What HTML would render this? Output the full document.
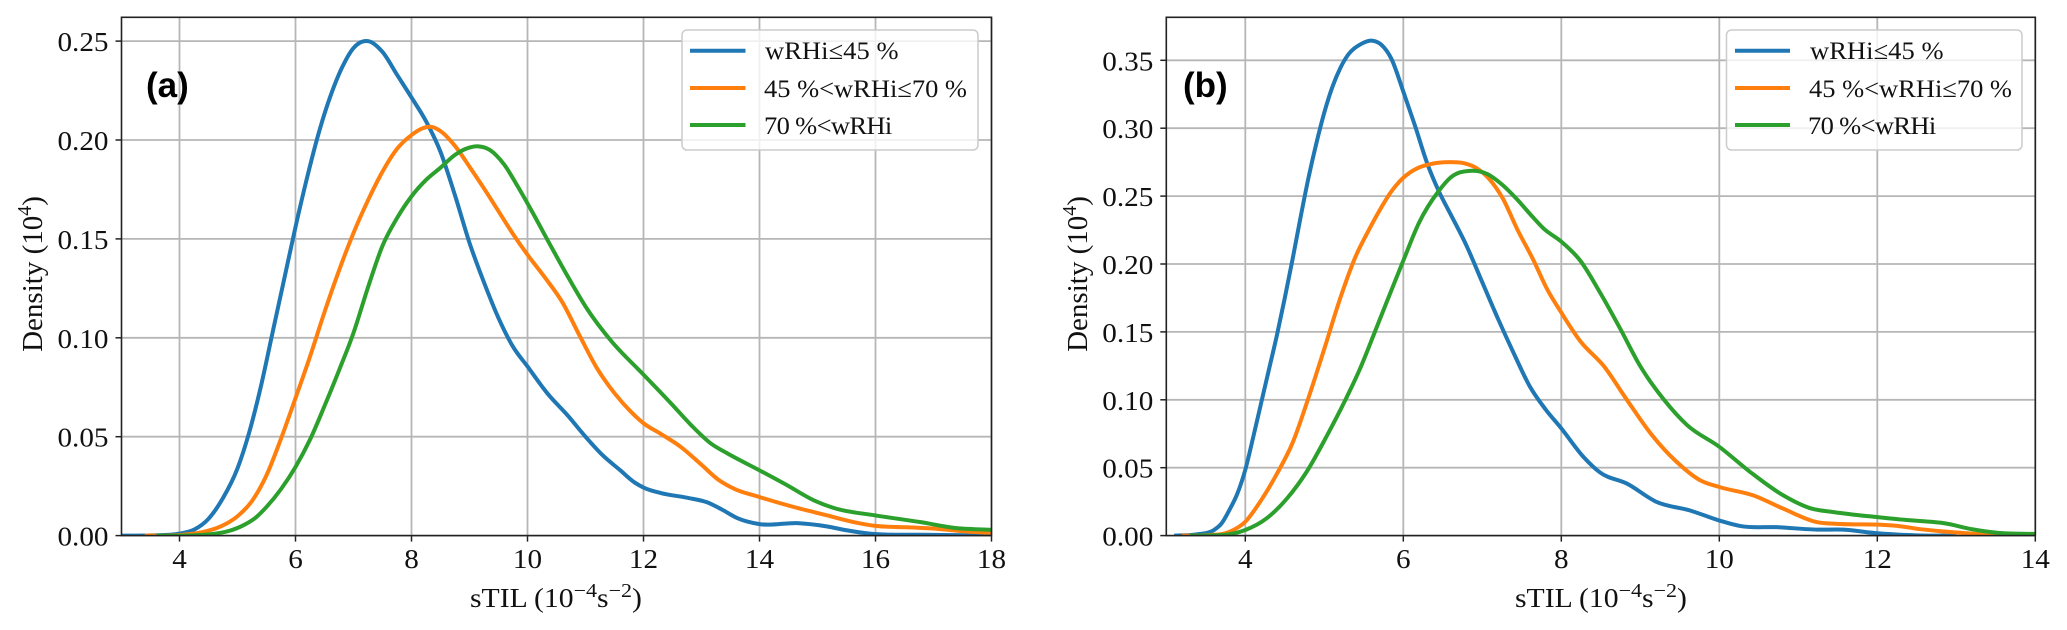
<!DOCTYPE html>
<html>
<head>
<meta charset="utf-8">
<title>sTIL density by wRHi</title>
<style>
html,body{margin:0;padding:0;background:#fff;}
svg{display:block;}
text{font-family:"Liberation Serif",serif;fill:#111;}
.panel-tag{font-family:"Liberation Sans",sans-serif;font-weight:bold;font-size:35px;fill:#000;}
</style>
</head>
<body>
<svg id="figure" xmlns="http://www.w3.org/2000/svg" width="2067" height="630" viewBox="0 0 2067 630">
  <defs>
    <clipPath id="clip-a"><rect x="121.5" y="17.3" width="870" height="518.3"/></clipPath>
    <clipPath id="clip-b"><rect x="1166.3" y="17.3" width="869" height="518.3"/></clipPath>
  </defs>
  <g id="panel-a"></g>
  <g id="panel-b"></g>

  <text class="panel-tag" x="146" y="97">(a)</text>
  <text class="panel-tag" x="1183" y="97">(b)</text>

  <text font-size="27" transform="translate(470,607) scale(1.1,1)">sTIL (10<tspan font-size="20" dy="-10">−4</tspan><tspan dy="10">s</tspan><tspan font-size="20" dy="-10">−2</tspan><tspan dy="10">)</tspan></text>
  <text font-size="27" transform="translate(1515,607) scale(1.1,1)">sTIL (10<tspan font-size="20" dy="-10">−4</tspan><tspan dy="10">s</tspan><tspan font-size="20" dy="-10">−2</tspan><tspan dy="10">)</tspan></text>
  <text font-size="29" text-anchor="middle" transform="translate(42,274) rotate(-90)">Density (10<tspan font-size="20" dy="-11">4</tspan><tspan dy="11">)</tspan></text>
  <text font-size="29" text-anchor="middle" transform="translate(1087,274) rotate(-90)">Density (10<tspan font-size="20" dy="-11">4</tspan><tspan dy="11">)</tspan></text>

  <g>
    <rect x="682" y="30" width="296" height="120" rx="5" fill="#fff" fill-opacity="0.8" stroke="#ccc" stroke-width="1.5"/>
    <line x1="690" x2="745.5" y1="50.7" y2="50.7" stroke="#1f77b4" stroke-width="4"/>
    <line x1="690" x2="745.5" y1="88" y2="88" stroke="#ff7f0e" stroke-width="4"/>
    <line x1="690" x2="745.5" y1="125" y2="125" stroke="#2ca02c" stroke-width="4"/>
    <text font-size="25" textLength="126" transform="translate(765,59) scale(1.06,1)">wRHi≤45 %</text>
    <text font-size="25" textLength="191.5" transform="translate(764,97) scale(1.06,1)">45 %&lt;wRHi≤70 %</text>
    <text font-size="25" textLength="121" transform="translate(764,134) scale(1.06,1)">70 %&lt;wRHi</text>
  </g>
  <g>
    <rect x="1726.5" y="30" width="295.5" height="120" rx="5" fill="#fff" fill-opacity="0.8" stroke="#ccc" stroke-width="1.5"/>
    <line x1="1735" x2="1790" y1="50.7" y2="50.7" stroke="#1f77b4" stroke-width="4"/>
    <line x1="1735" x2="1790" y1="88" y2="88" stroke="#ff7f0e" stroke-width="4"/>
    <line x1="1735" x2="1790" y1="125" y2="125" stroke="#2ca02c" stroke-width="4"/>
    <text font-size="25" textLength="126" transform="translate(1810,59) scale(1.06,1)">wRHi≤45 %</text>
    <text font-size="25" textLength="191.5" transform="translate(1809,97) scale(1.06,1)">45 %&lt;wRHi≤70 %</text>
    <text font-size="25" textLength="121" transform="translate(1808,134) scale(1.06,1)">70 %&lt;wRHi</text>
  </g>
</svg>
<script>
// Panel (a) tick labels
const aXTicks = [4, 6, 8, 10, 12, 14, 16, 18];
const aYTicks = ['0.00', '0.05', '0.10', '0.15', '0.20', '0.25'];
// Panel (a) series: x values and density values
const aLowX = [3, 3.5, 4, 4.25, 4.5, 4.75, 5, 5.2, 5.4, 5.6, 5.8, 6, 6.2, 6.4, 6.6, 6.8, 7, 7.25, 7.5, 7.75, 8, 8.25, 8.5, 8.75, 9, 9.25, 9.5, 9.75, 10, 10.34, 10.7, 11, 11.3, 11.6, 11.84, 12, 12.3, 12.76, 13.1, 13.35, 13.62, 14, 14.65, 15.17, 15.5, 15.9, 16.8, 18];
const aLowY = [0, 0.0001, 0.001, 0.003, 0.0085, 0.019, 0.034, 0.052, 0.075, 0.102, 0.129, 0.156, 0.181, 0.2035, 0.222, 0.2365, 0.2465, 0.25, 0.2445, 0.233, 0.2215, 0.2095, 0.194, 0.172, 0.148, 0.128, 0.11, 0.0955, 0.0855, 0.072, 0.0605, 0.05, 0.0405, 0.033, 0.027, 0.0243, 0.0215, 0.0191, 0.0168, 0.0132, 0.0088, 0.0058, 0.0063, 0.0046, 0.0027, 0.001, 0.0004, 0.0001];
const aMidX = [3.4, 4, 4.4, 4.7, 5, 5.25, 5.5, 5.75, 6, 6.25, 6.5, 6.75, 7, 7.25, 7.5, 7.75, 8, 8.2, 8.35, 8.5, 8.75, 9, 9.25, 9.5, 9.75, 10, 10.3, 10.6, 10.9, 11.2, 11.5, 11.78, 12, 12.3, 12.64, 13, 13.28, 13.56, 14, 14.6, 15.17, 15.63, 16, 16.55, 17.07, 17.5, 18];
const aMidY = [0, 0.0003, 0.0018, 0.0045, 0.0098, 0.0175, 0.0305, 0.049, 0.0695, 0.0905, 0.113, 0.134, 0.153, 0.1695, 0.184, 0.1955, 0.2025, 0.206, 0.2066, 0.2045, 0.197, 0.1865, 0.1755, 0.164, 0.1525, 0.142, 0.1305, 0.118, 0.101, 0.0845, 0.072, 0.0627, 0.0568, 0.0514, 0.0449, 0.0358, 0.0285, 0.0237, 0.0195, 0.0144, 0.0102, 0.0068, 0.0049, 0.0042, 0.0034, 0.0022, 0.0014];
const aHighX = [3.6, 4.2, 4.5, 4.87, 5.1, 5.33, 5.5, 5.75, 6, 6.25, 6.5, 6.75, 7, 7.25, 7.5, 7.75, 8, 8.25, 8.5, 8.75, 9, 9.15, 9.35, 9.6, 9.83, 10.06, 10.4, 10.72, 11.03, 11.44, 12, 12.47, 12.82, 13.16, 13.45, 14, 14.48, 14.94, 15.29, 16, 16.78, 17.36, 18];
const aHighY = [0, 0.0001, 0.0006, 0.0025, 0.0052, 0.0095, 0.0145, 0.0235, 0.0347, 0.0485, 0.0655, 0.0835, 0.1025, 0.1255, 0.1465, 0.1605, 0.1715, 0.1798, 0.186, 0.1925, 0.1962, 0.1968, 0.195, 0.1875, 0.1766, 0.1648, 0.1465, 0.1297, 0.1145, 0.0985, 0.0814, 0.067, 0.0559, 0.0466, 0.0415, 0.033, 0.0254, 0.0178, 0.0139, 0.0102, 0.0068, 0.0039, 0.0029];

// Panel (b) tick labels
const bXTicks = [4, 6, 8, 10, 12, 14];
const bYTicks = ['0.00', '0.05', '0.10', '0.15', '0.20', '0.25', '0.30', '0.35'];
// Panel (b) series: x values and density values
const bLowX = [3.1, 3.4, 3.6, 3.7, 3.8, 3.9, 4, 4.1, 4.2, 4.3, 4.4, 4.5, 4.6, 4.7, 4.8, 4.9, 5, 5.1, 5.2, 5.3, 5.45, 5.6, 5.72, 5.85, 6, 6.15, 6.3, 6.45, 6.6, 6.8, 7, 7.2, 7.4, 7.6, 7.8, 8, 8.28, 8.49, 8.83, 9.21, 9.63, 10, 10.27, 10.73, 11.24, 11.57, 12, 12.5, 13];
const bLowY = [0, 0.001, 0.004, 0.009, 0.019, 0.031, 0.0485, 0.0725, 0.0975, 0.1225, 0.1475, 0.175, 0.204, 0.2345, 0.2635, 0.289, 0.3115, 0.33, 0.344, 0.354, 0.3615, 0.3645, 0.3615, 0.351, 0.327, 0.3015, 0.2745, 0.2535, 0.2365, 0.2135, 0.1865, 0.1595, 0.134, 0.11, 0.093, 0.079, 0.058, 0.0465, 0.0383, 0.0247, 0.0185, 0.0111, 0.007, 0.0062, 0.0044, 0.0044, 0.0017, 0.0002, 0];
const bMidX = [3.2, 3.5, 3.8, 4, 4.2, 4.4, 4.6, 4.8, 5, 5.2, 5.4, 5.55, 5.7, 5.85, 6, 6.17, 6.34, 6.59, 6.76, 6.93, 7.09, 7.26, 7.44, 7.65, 7.82, 8, 8.24, 8.54, 8.83, 9.13, 9.46, 9.76, 10, 10.43, 10.81, 11.24, 11.49, 12, 12.29, 12.52, 12.85, 13.27, 14];
const bMidY = [0, 0.0003, 0.0028, 0.0102, 0.026, 0.0455, 0.0685, 0.1015, 0.1375, 0.1745, 0.206, 0.2235, 0.2395, 0.2535, 0.2635, 0.2703, 0.2735, 0.275, 0.2743, 0.2705, 0.2625, 0.2482, 0.2259, 0.2025, 0.1815, 0.1642, 0.1432, 0.1247, 0.1, 0.0753, 0.0543, 0.0407, 0.0358, 0.0296, 0.0198, 0.0099, 0.0086, 0.0081, 0.0069, 0.0049, 0.003, 0.0012, 0.0001];
const bHighX = [3.3, 3.5, 3.81, 4, 4.27, 4.53, 4.78, 5.03, 5.26, 5.45, 5.64, 5.8, 6, 6.2, 6.44, 6.61, 6.84, 7.05, 7.26, 7.43, 7.6, 7.78, 8, 8.24, 8.49, 8.75, 9, 9.3, 9.59, 10, 10.39, 10.81, 11.15, 11.45, 12, 12.29, 12.52, 12.85, 13.2, 13.5, 14];
const bHighY = [0, 0.0001, 0.0011, 0.0041, 0.0127, 0.0275, 0.0473, 0.0732, 0.0991, 0.1226, 0.15, 0.1735, 0.2025, 0.2305, 0.2531, 0.2642, 0.2686, 0.2666, 0.258, 0.2482, 0.2371, 0.2259, 0.2165, 0.2025, 0.179, 0.1519, 0.1247, 0.1, 0.0815, 0.0654, 0.0469, 0.0296, 0.0202, 0.0173, 0.0136, 0.0119, 0.0108, 0.0091, 0.0047, 0.0022, 0.0012];

const NS = 'http://www.w3.org/2000/svg';
const SPINE = '#222';
const GRID = '#b6b6b6';

function svgEl(tag, parent, attrs) {
  const el = document.createElementNS(NS, tag);
  for (const k in attrs) el.setAttribute(k, attrs[k]);
  parent.appendChild(el);
  return el;
}

// Hermite spline through data points, mapped through the axis functions
function curvePath(xs, ys, sx, sy) {
  const n = xs.length;
  const px = xs.map(sx);
  const py = ys.map(sy);
  const m = [];
  for (let i = 0; i < n; i++) {
    if (i === 0) m.push((py[1] - py[0]) / (px[1] - px[0]));
    else if (i === n - 1) m.push((py[n - 1] - py[n - 2]) / (px[n - 1] - px[n - 2]));
    else {
      const h0 = px[i] - px[i - 1], h1 = px[i + 1] - px[i];
      const d0 = (py[i] - py[i - 1]) / h0, d1 = (py[i + 1] - py[i]) / h1;
      m.push((d0 * h1 + d1 * h0) / (h0 + h1));
    }
  }
  let d = 'M' + px[0].toFixed(2) + ' ' + py[0].toFixed(2);
  for (let i = 0; i < n - 1; i++) {
    const h = (px[i + 1] - px[i]) / 3;
    d += 'C' + (px[i] + h).toFixed(2) + ' ' + (py[i] + m[i] * h).toFixed(2) + ' ' +
         (px[i + 1] - h).toFixed(2) + ' ' + (py[i + 1] - m[i + 1] * h).toFixed(2) + ' ' +
         px[i + 1].toFixed(2) + ' ' + py[i + 1].toFixed(2);
  }
  return d;
}

function drawPanel(cfg) {
  const root = document.getElementById(cfg.id);
  const sx = v => cfg.left + (v - cfg.xMin) * cfg.xUnit;
  const sy = v => cfg.bottom - v * cfg.yUnit;
  const right = sx(cfg.xMax);

  cfg.xTicks.forEach(t => {
    const grid = svgEl('line', root, {x1: sx(t), x2: sx(t), y1: cfg.top, y2: cfg.bottom, stroke: GRID, 'stroke-width': 1.8});
    
    
    const tick = svgEl('line', root, {x1: sx(t), x2: sx(t), y1: cfg.bottom, y2: cfg.bottom + 6, stroke: SPINE, 'stroke-width': 1.5});
    
    
    const label = svgEl('text', root, {'font-size': 27, 'text-anchor': 'middle', transform: 'translate(' + sx(t) + ',568) scale(1.08,1)'});
    
    
    label.textContent = t;
  });

  cfg.yTicks.forEach(t => {
    const v = parseFloat(t);
    const grid = svgEl('line', root, {x1: cfg.left, x2: right, y1: sy(v), y2: sy(v), stroke: GRID, 'stroke-width': 1.8});
    
    
    const tick = svgEl('line', root, {x1: cfg.left - 6, x2: cfg.left, y1: sy(v), y2: sy(v), stroke: SPINE, 'stroke-width': 1.5});
    
    
    const label = svgEl('text', root, {'font-size': 27, 'text-anchor': 'end', transform: 'translate(' + (cfg.left - 13) + ',' + (sy(v) + 10) + ') scale(1.08,1)'});
    
    
    label.textContent = t;
  });

  const curves = svgEl('g', root, {'clip-path': 'url(#' + cfg.clip + ')'});
  
  
  cfg.series.forEach(s => {
    const path = svgEl('path', curves, {d: curvePath(s.x, s.y, sx, sy), fill: 'none', stroke: s.color, 'stroke-width': 4, 'stroke-linejoin': 'round'});
    
    
  });

  const frame = svgEl('rect', root, {x: cfg.left, y: cfg.top, width: right - cfg.left, height: cfg.bottom - cfg.top, fill: 'none', stroke: SPINE, 'stroke-width': 1.6});
  
  
}

drawPanel({
  id: 'panel-a', clip: 'clip-a', left: 121.5, top: 17.3, bottom: 535.6,
  xMin: 3, xMax: 18, xUnit: 58, yUnit: 1978,
  xTicks: aXTicks, yTicks: aYTicks,
  series: [
    {name: 'curve-low-wrhi', color: '#1f77b4', x: aLowX, y: aLowY},
    {name: 'curve-mid-wrhi', color: '#ff7f0e', x: aMidX, y: aMidY},
    {name: 'curve-high-wrhi', color: '#2ca02c', x: aHighX, y: aHighY}
  ]
});
drawPanel({
  id: 'panel-b', clip: 'clip-b', left: 1166.3, top: 17.3, bottom: 535.6,
  xMin: 3, xMax: 14, xUnit: 79, yUnit: 1358,
  xTicks: bXTicks, yTicks: bYTicks,
  series: [
    {name: 'curve-low-wrhi', color: '#1f77b4', x: bLowX, y: bLowY},
    {name: 'curve-mid-wrhi', color: '#ff7f0e', x: bMidX, y: bMidY},
    {name: 'curve-high-wrhi', color: '#2ca02c', x: bHighX, y: bHighY}
  ]
});
</script>
</body>
</html>
